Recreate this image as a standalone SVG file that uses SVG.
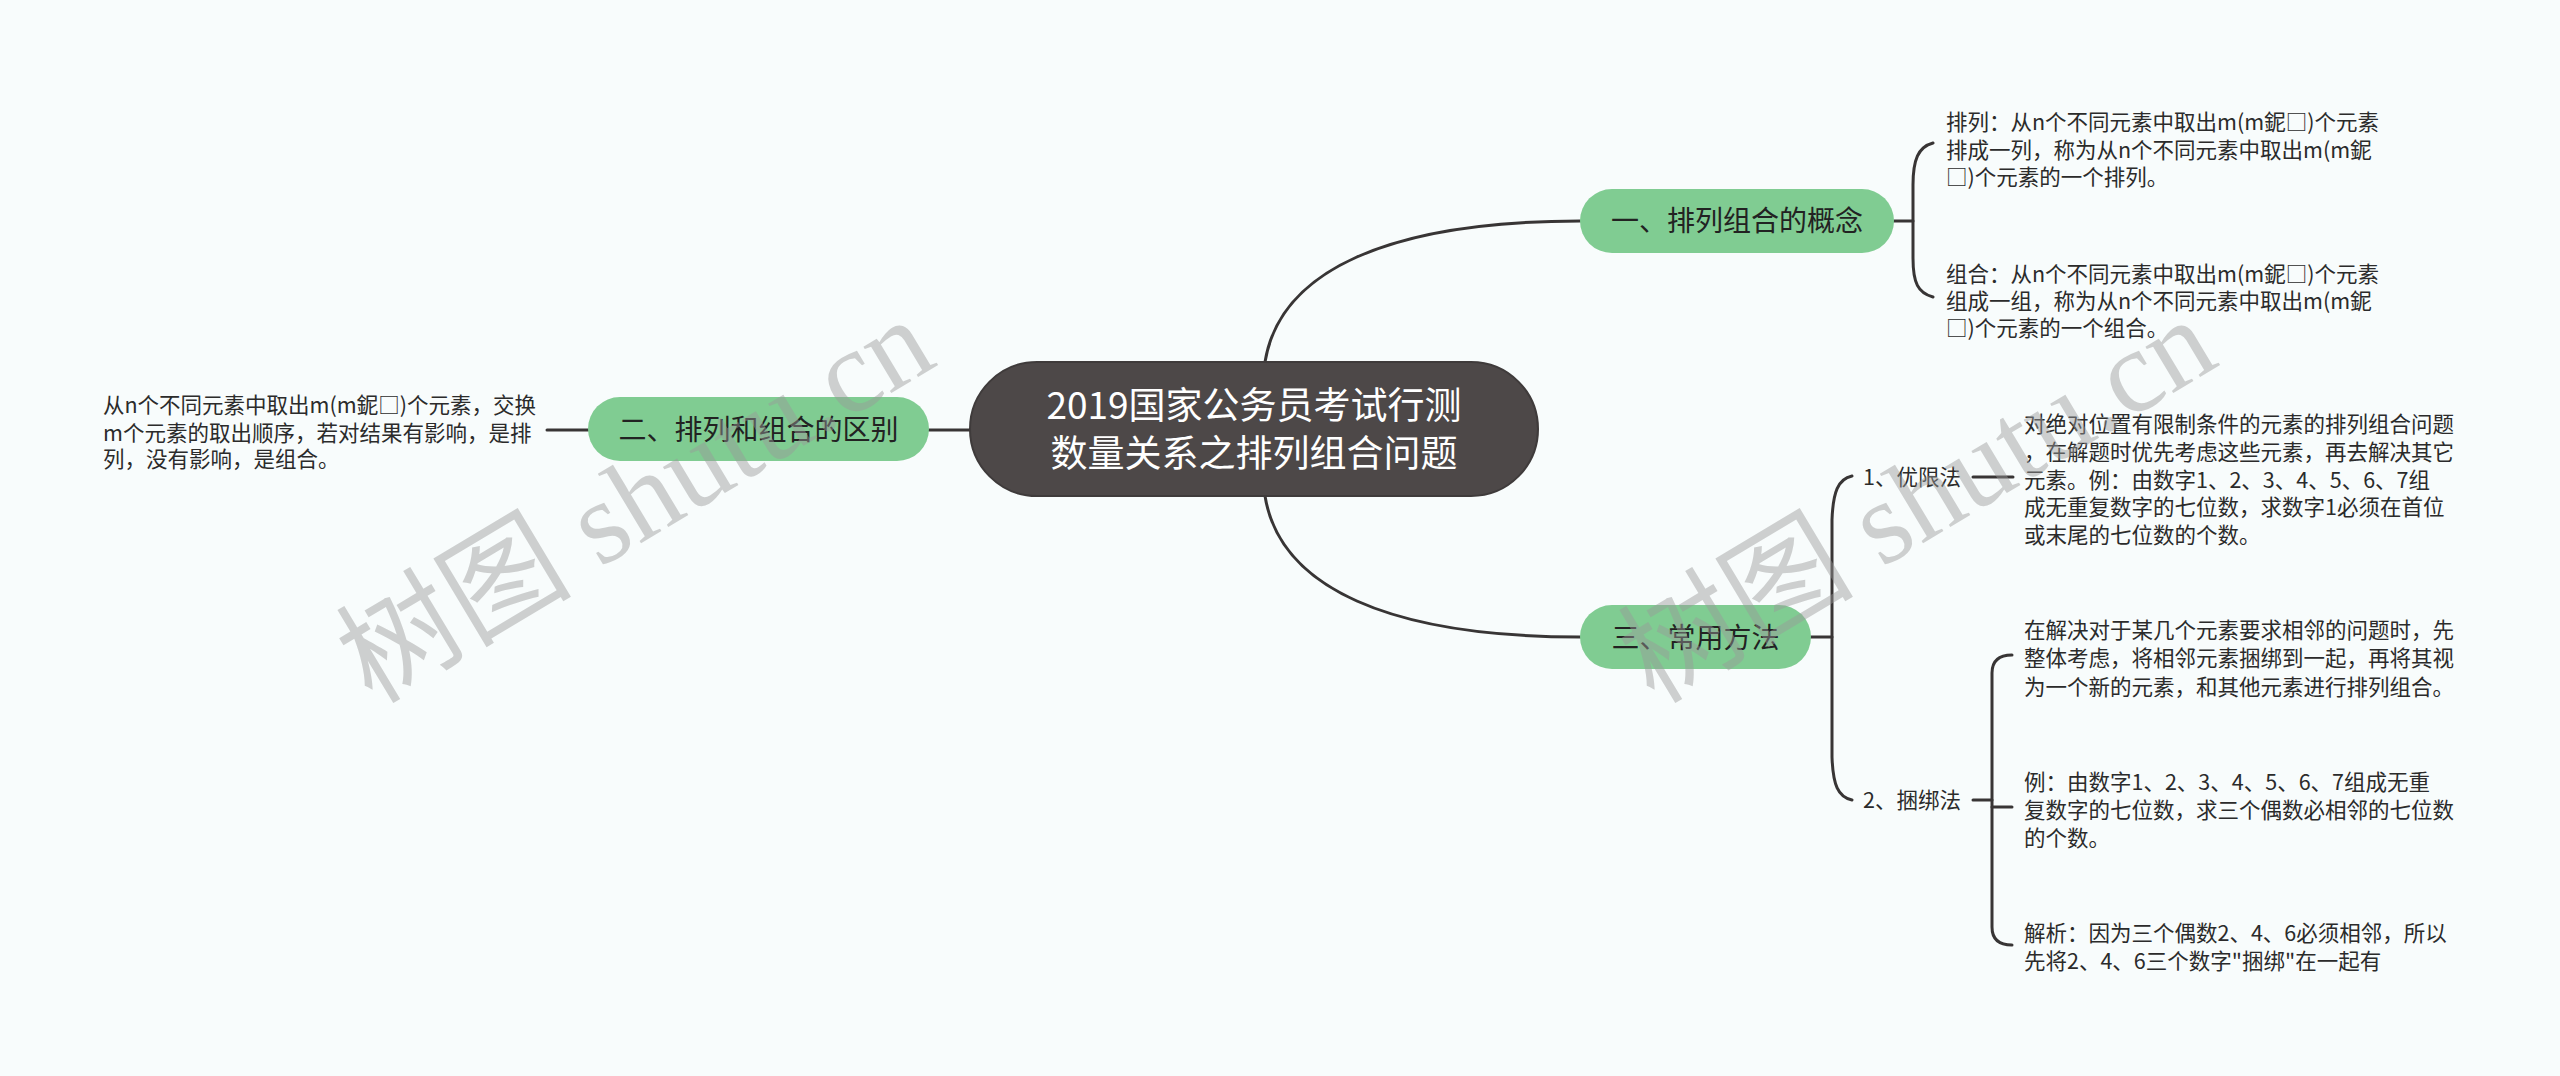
<svg xmlns="http://www.w3.org/2000/svg" width="2560" height="1076" viewBox="0 0 2560 1076">
<style>
.bg{fill:#f8fcfc}
.ln{fill:none;stroke:#383535;stroke-width:3;stroke-linecap:round}
.root{fill:#4d4848;stroke:#3f3b3b;stroke-width:2}
.main{fill:#80cc92}
.rt{font-family:"Noto Sans CJK SC","Noto Sans",sans-serif;font-size:37px;fill:#ffffff;text-anchor:middle}
.mt{font-family:"Noto Sans CJK SC","Noto Sans",sans-serif;font-size:28px;fill:#222222;text-anchor:middle}
.tx{font-family:"Noto Sans CJK SC","Noto Sans",sans-serif;font-size:21.5px;fill:#2b2b2b}
.wm{font-family:"Liberation Serif","Noto Sans CJK SC",serif;font-size:118px;fill:#9a9a9a;opacity:0.45}
</style>
<rect class="bg" x="0" y="0" width="2560" height="1076"/>
<g id="connectors">
<path class="ln" d="M1265,400 L1265,362 C1280,270 1390,221 1580,221"/>
<path class="ln" d="M1265,458 L1265,496 C1280,588 1390,637 1580,637"/>
<path class="ln" d="M929,430 H975"/>
<path class="ln" d="M547,430 H588"/>
<path class="ln" d="M1894,221 H1913"/>
<path class="ln" d="M1933,143 C1918,147 1913,160 1913,185 L1913,258 C1913,283 1918,293 1933,297"/>
<path class="ln" d="M1811,637 H1832"/>
<path class="ln" d="M1852,476 C1838,479 1833,492 1832,520 L1832,757 C1833,785 1838,797 1852,800"/>
<path class="ln" d="M1973,477 H2013"/>
<path class="ln" d="M1973,800 H1992"/>
<path class="ln" d="M2012,655 Q1992,655 1992,673 L1992,927 Q1992,945 2012,945"/>
<path class="ln" d="M1992,807 H2012"/>
</g>
<g id="root">
<rect class="root" x="970" y="362" width="568" height="134" rx="67"/>
<text class="rt" x="1254" y="419">2019国家公务员考试行测</text>
<text class="rt" x="1254" y="467">数量关系之排列组合问题</text>
</g>
<g id="n1">
<rect class="main" x="1580" y="189" width="314" height="64" rx="32"/>
<text class="mt" x="1737" y="231">一、排列组合的概念</text>
</g>
<g id="n1a">
<text class="tx" x="1946" y="130">排列：从n个不同元素中取出m(m鈮□)个元素</text>
<text class="tx" x="1946" y="158">排成一列，称为从n个不同元素中取出m(m鈮</text>
<text class="tx" x="1946" y="185">□)个元素的一个排列。</text>
</g>
<g id="n1b">
<text class="tx" x="1946" y="282">组合：从n个不同元素中取出m(m鈮□)个元素</text>
<text class="tx" x="1946" y="309">组成一组，称为从n个不同元素中取出m(m鈮</text>
<text class="tx" x="1946" y="336">□)个元素的一个组合。</text>
</g>
<g id="n2">
<rect class="main" x="588" y="397" width="341" height="64" rx="32"/>
<text class="mt" x="758.5" y="440">二、排列和组合的区别</text>
</g>
<g id="n2a">
<text class="tx" x="103" y="413">从n个不同元素中取出m(m鈮□)个元素，交换</text>
<text class="tx" x="103" y="441">m个元素的取出顺序，若对结果有影响，是排</text>
<text class="tx" x="103" y="467">列，没有影响，是组合。</text>
</g>
<g id="n3">
<rect class="main" x="1580" y="605" width="231" height="64" rx="32"/>
<text class="mt" x="1695.5" y="648">三、常用方法</text>
</g>
<g id="n3a">
<text class="tx" x="1863" y="485">1、优限法</text>
</g>
<g id="n3a1">
<text class="tx" x="2024" y="432">对绝对位置有限制条件的元素的排列组合问题</text>
<text class="tx" x="2024" y="460">，在解题时优先考虑这些元素，再去解决其它</text>
<text class="tx" x="2024" y="488">元素。例：由数字1、2、3、4、5、6、7组</text>
<text class="tx" x="2024" y="515">成无重复数字的七位数，求数字1必须在首位</text>
<text class="tx" x="2024" y="543">或末尾的七位数的个数。</text>
</g>
<g id="n3b">
<text class="tx" x="1863" y="808">2、捆绑法</text>
</g>
<g id="n3b1">
<text class="tx" x="2024" y="638">在解决对于某几个元素要求相邻的问题时，先</text>
<text class="tx" x="2024" y="666">整体考虑，将相邻元素捆绑到一起，再将其视</text>
<text class="tx" x="2024" y="695">为一个新的元素，和其他元素进行排列组合。</text>
</g>
<g id="n3b2">
<text class="tx" x="2024" y="790">例：由数字1、2、3、4、5、6、7组成无重</text>
<text class="tx" x="2024" y="818">复数字的七位数，求三个偶数必相邻的七位数</text>
<text class="tx" x="2024" y="846">的个数。</text>
</g>
<g id="n3b3">
<text class="tx" x="2024" y="941">解析：因为三个偶数2、4、6必须相邻，所以</text>
<text class="tx" x="2024" y="969">先将2、4、6三个数字"捆绑"在一起有</text>
</g>
<g id="watermark">
<text class="wm" x="372" y="705" transform="rotate(-31 372 705)">树图 shutu.cn</text>
<text class="wm" x="1654" y="705" transform="rotate(-31 1654 705)">树图 shutu.cn</text>
</g>
</svg>
